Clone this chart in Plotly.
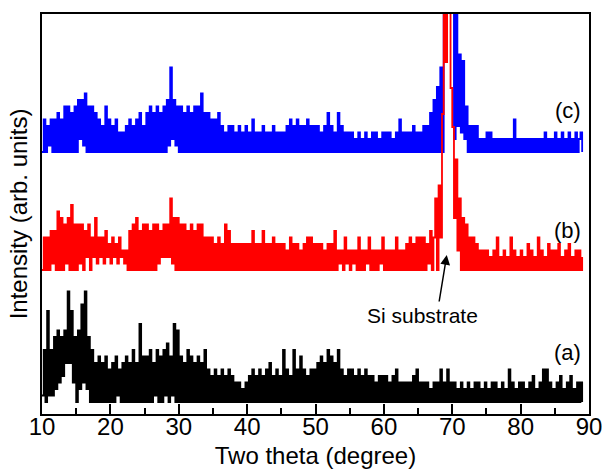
import numpy as np
import plotly.graph_objects as go

# ---- data: XRD counts (relative to each pattern's minimum), 0.25 deg steps from 10 to 89 deg ----
TWO_THETA_START = 10.0
TWO_THETA_STEP = 0.25

counts_a = [
    1,8,0,14,1,8,1,10,2,11,3,10,4,11,6,17,6,14,3,10,
    0,11,2,15,3,17,2,10,0,8,0,6,0,7,0,6,0,7,0,5,
    0,6,0,7,1,5,0,6,0,7,0,6,0,8,0,6,0,12,0,7,
    0,7,0,8,0,6,1,8,0,7,0,8,1,9,0,7,1,12,0,11,
    0,7,0,6,0,8,0,7,0,6,0,7,0,6,0,8,0,5,0,4,
    0,5,0,4,0,5,0,4,0,5,0,4,0,3,0,3,0,2,0,3,
    0,4,0,5,0,4,0,5,0,4,0,5,0,6,0,4,0,5,0,4,
    0,8,0,5,0,4,0,8,0,5,0,7,0,5,0,4,0,5,0,5,
    0,6,0,7,0,6,0,8,0,7,0,6,0,8,0,5,0,4,0,5,
    0,5,0,4,0,5,0,4,0,5,0,4,0,4,0,3,0,4,0,4,
    0,4,0,3,0,4,0,5,0,3,0,3,0,3,0,3,0,4,0,5,
    0,3,0,3,0,3,0,2,0,3,0,3,0,5,0,3,0,5,0,3,
    0,3,0,2,0,3,0,2,0,3,0,2,0,3,0,3,0,2,0,3,
    0,2,0,3,0,3,0,2,0,3,0,2,0,5,0,3,0,2,0,3,
    0,3,0,2,0,3,0,4,0,2,0,3,0,5,0,5,0,3,0,2,
    0,3,0,4,0,2,0,3,0,4,0,2,0,3,0,3,0,
]

counts_b = [
    0,5,0,5,0,6,1,6,0,9,0,8,0,7,1,8,0,10,0,7,
    0,7,1,7,0,6,2,7,0,5,2,8,1,5,2,5,1,6,2,4,
    1,5,2,4,1,5,2,3,1,3,0,6,0,7,0,8,0,6,0,7,
    0,7,0,6,0,7,0,7,1,6,2,7,2,7,2,11,1,8,0,8,
    0,7,0,7,0,6,0,7,0,6,0,7,0,7,0,5,0,5,0,5,
    0,4,0,5,0,4,0,7,0,6,0,4,0,4,0,4,0,4,0,4,
    0,4,0,6,0,4,0,4,0,6,0,4,0,4,0,5,0,4,0,4,
    0,4,0,3,0,5,0,4,0,4,0,3,0,4,0,5,0,5,0,4,
    0,4,0,4,0,3,0,4,0,4,0,6,0,3,1,3,0,5,1,3,
    0,3,1,3,0,5,0,3,0,3,1,5,0,3,0,3,0,3,1,5,
    0,3,0,3,0,3,0,5,0,3,0,3,0,4,0,5,0,4,0,5,
    0,5,0,5,0,4,1,6,0,5,11,0,13,5,24,60,32,60,50,28,
    22,8,17,3,11,0,8,0,7,0,5,0,5,0,4,0,3,0,3,0,
    3,0,2,0,3,0,5,0,2,0,3,0,2,0,5,0,3,0,2,0,
    3,0,2,0,4,0,3,0,2,0,5,0,3,0,2,0,4,0,3,0,
    3,0,4,0,2,0,3,0,4,0,2,0,3,0,3,0,2,
]

counts_c = [
    0,5,0,4,1,5,0,5,0,6,0,5,0,7,0,7,0,6,0,7,
    0,8,2,8,1,9,0,7,0,7,0,6,0,5,0,4,0,7,0,5,
    0,4,0,5,0,3,0,3,0,4,0,5,0,4,0,5,0,6,0,4,
    0,6,0,7,0,6,0,7,0,6,0,7,0,8,1,13,2,8,1,7,
    0,7,0,6,0,7,0,6,0,7,0,7,0,9,0,6,0,6,0,5,
    0,5,0,6,0,4,0,3,0,4,0,4,0,3,0,4,0,3,0,4,
    0,3,0,5,0,3,0,3,0,4,0,3,0,3,0,4,0,3,0,3,
    0,3,0,4,0,5,0,4,0,5,0,4,0,4,0,5,0,4,0,4,
    0,4,0,3,0,4,0,6,0,4,0,3,0,6,0,4,0,3,0,3,
    0,3,0,2,0,3,0,2,0,3,0,2,0,3,0,3,0,2,0,3,
    0,3,0,3,0,2,0,3,0,5,0,3,0,3,0,3,0,4,0,3,
    0,3,0,4,0,4,0,6,0,8,0,10,0,13,0,40,35,50,40,45,
    40,2,22,4,15,3,14,2,7,0,4,0,4,0,4,0,2,0,2,0,
    3,0,3,0,2,0,2,0,2,0,2,0,2,0,2,0,5,0,2,0,
    2,0,2,0,2,0,2,0,2,0,2,0,2,0,3,0,2,0,2,0,
    3,0,2,0,3,0,2,0,3,0,2,0,3,0,2,3,0,
]

labels = ["(a)", "(b)", "(c)"]
x_ticks = [10, 20, 30, 40, 50, 60, 70, 80, 90]

# vertical stacking (display offsets) and scale of one count
COUNT_SCALE = 6.5
OFFSETS = {"a": 12, "b": 144, "c": 262}
LABEL_LIFT = {"a": 50, "b": 40, "c": 42}
COLORS = {"a": "#000000", "b": "#ff0000", "c": "#0000ff"}

FONT = "Arial, 'Liberation Sans', Helvetica, sans-serif"


def tt(n):
    return TWO_THETA_START + TWO_THETA_STEP * np.arange(n)


fig = go.Figure()
for key, cnt in [("c", counts_c), ("b", counts_b), ("a", counts_a)]:
    cnt = np.asarray(cnt, dtype=float)
    fig.add_trace(go.Scatter(
        x=tt(len(cnt)), y=OFFSETS[key] + COUNT_SCALE * cnt,
        mode="lines", line=dict(color=COLORS[key], width=1.8, shape="hv", simplify=False),
        showlegend=False, hoverinfo="skip",
    ))

# pattern labels
for key, lab in zip(["a", "b", "c"], labels):
    fig.add_annotation(x=86.9, y=OFFSETS[key] + LABEL_LIFT[key],
                       text=lab, showarrow=False,
                       font=dict(family=FONT, size=22, color="black"))

fig.add_annotation(x=65.7, y=99, text="Si substrate", showarrow=False,
                   font=dict(family=FONT, size=21, color="black"))
fig.add_annotation(x=69.2, y=159, ax=68.05, ay=111, axref="x", ayref="y",
                   text="", showarrow=True, arrowhead=2, arrowsize=1.3,
                   arrowwidth=1.5, arrowcolor="black")

fig.update_layout(
    width=602, height=469,
    margin=dict(l=42, r=13, t=14, b=55),
    paper_bgcolor="white", plot_bgcolor="white",
    font=dict(family=FONT, color="black", size=24),
)
fig.update_xaxes(
    range=[10, 90], tickvals=x_ticks, ticks="inside", ticklen=10, tickwidth=2,
    tickcolor="black", showline=True, linewidth=2, linecolor="black", mirror=True,
    showgrid=False, zeroline=False, automargin=False,
    ticklabelstandoff=-10, ticklabeloverflow="allow",
    tickfont=dict(family=FONT, size=24, color="black"),
    minor=dict(ticks="inside", ticklen=6, tickwidth=2, tickcolor="black", dtick=5, tick0=0, showgrid=False),
    title=dict(text="Two theta (degree)", font=dict(family=FONT, size=24, color="black"), standoff=10),
)
fig.update_yaxes(
    range=[0, 400], showticklabels=False, ticks="", showline=True, linewidth=2,
    linecolor="black", mirror=True, showgrid=False, zeroline=False, automargin=False,
    title=dict(text="Intensity (arb. units)", font=dict(family=FONT, size=24, color="black"), standoff=6),
)

fig.write_html("out.html", config={"displayModeBar": False, "staticPlot": True},
               post_script="document.body.style.margin='0';")
